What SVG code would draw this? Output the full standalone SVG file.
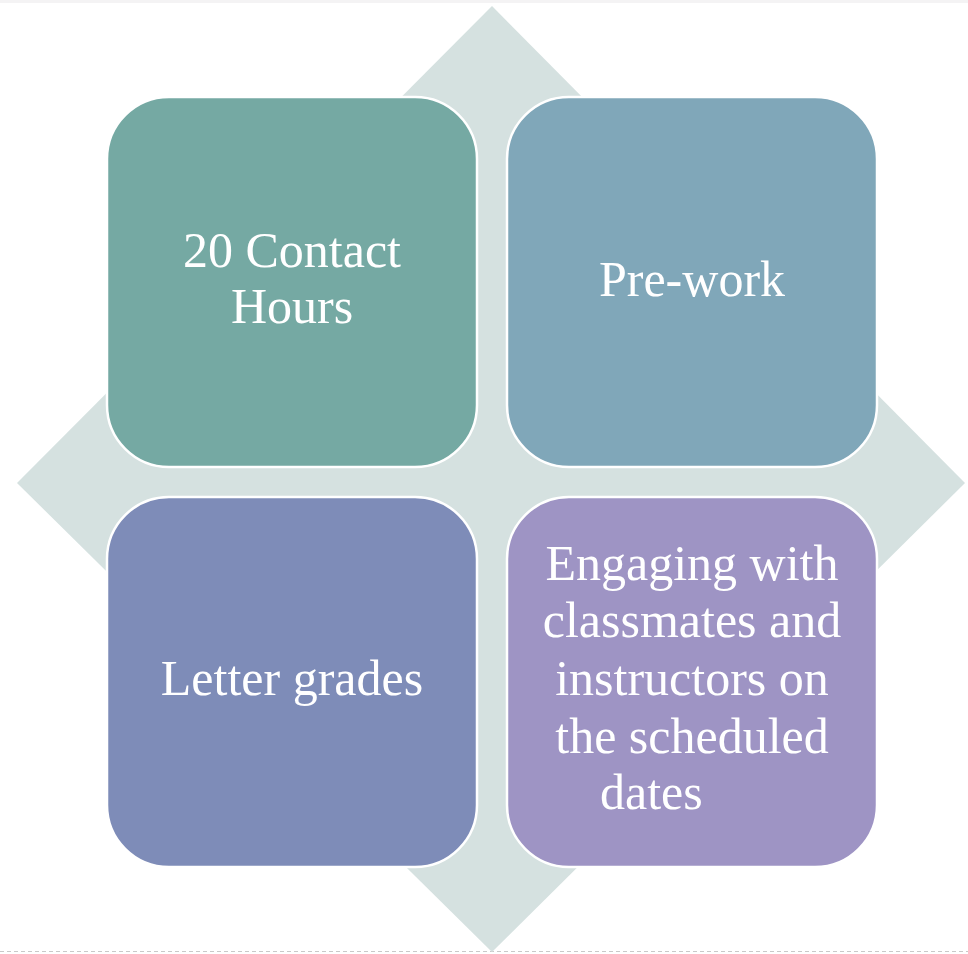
<svg xmlns="http://www.w3.org/2000/svg" width="968" height="954" viewBox="0 0 968 954">
<style>
.box{stroke:#ffffff;stroke-width:2.5}
.t{font-family:"Liberation Serif","Times New Roman",serif;font-size:50px;fill:#ffffff;text-anchor:middle}
</style>
<rect x="0" y="0" width="968" height="954" fill="#ffffff"/>
<rect x="0" y="0" width="968" height="3" fill="#F4F3F4"/>
<line x1="0" y1="951.5" x2="968" y2="951.5" stroke="#C9C9C9" stroke-width="1" stroke-dasharray="4,3"/>
<g id="background">
<polygon points="492,6 965,483 492,952 17,483" fill="#D5E1E0"/>
</g>
<g id="connectors"></g>
<g id="node-contact-hours">
<rect class="box" x="107" y="97" width="370" height="370" rx="62" fill="#75A9A3"/>
<text class="t" x="292" y="267">20 Contact</text>
<text class="t" x="292" y="323">Hours</text>
</g>
<g id="node-pre-work">
<rect class="box" x="507" y="97" width="370" height="370" rx="62" fill="#80A7B9"/>
<text class="t" x="692" y="296">Pre-work</text>
</g>
<g id="node-letter-grades">
<rect class="box" x="107" y="497" width="370" height="370" rx="62" fill="#7E8CB8"/>
<text class="t" x="292" y="695">Letter grades</text>
</g>
<g id="node-engaging">
<rect class="box" x="507" y="497" width="370" height="370" rx="62" fill="#9E94C4"/>
<text class="t" x="692" y="580">Engaging with</text>
<text class="t" x="692" y="637">classmates and</text>
<text class="t" x="692" y="695">instructors on</text>
<text class="t" x="692" y="753">the scheduled</text>
<text class="t" x="600" y="809" style="text-anchor:start">dates</text>
</g>
</svg>
